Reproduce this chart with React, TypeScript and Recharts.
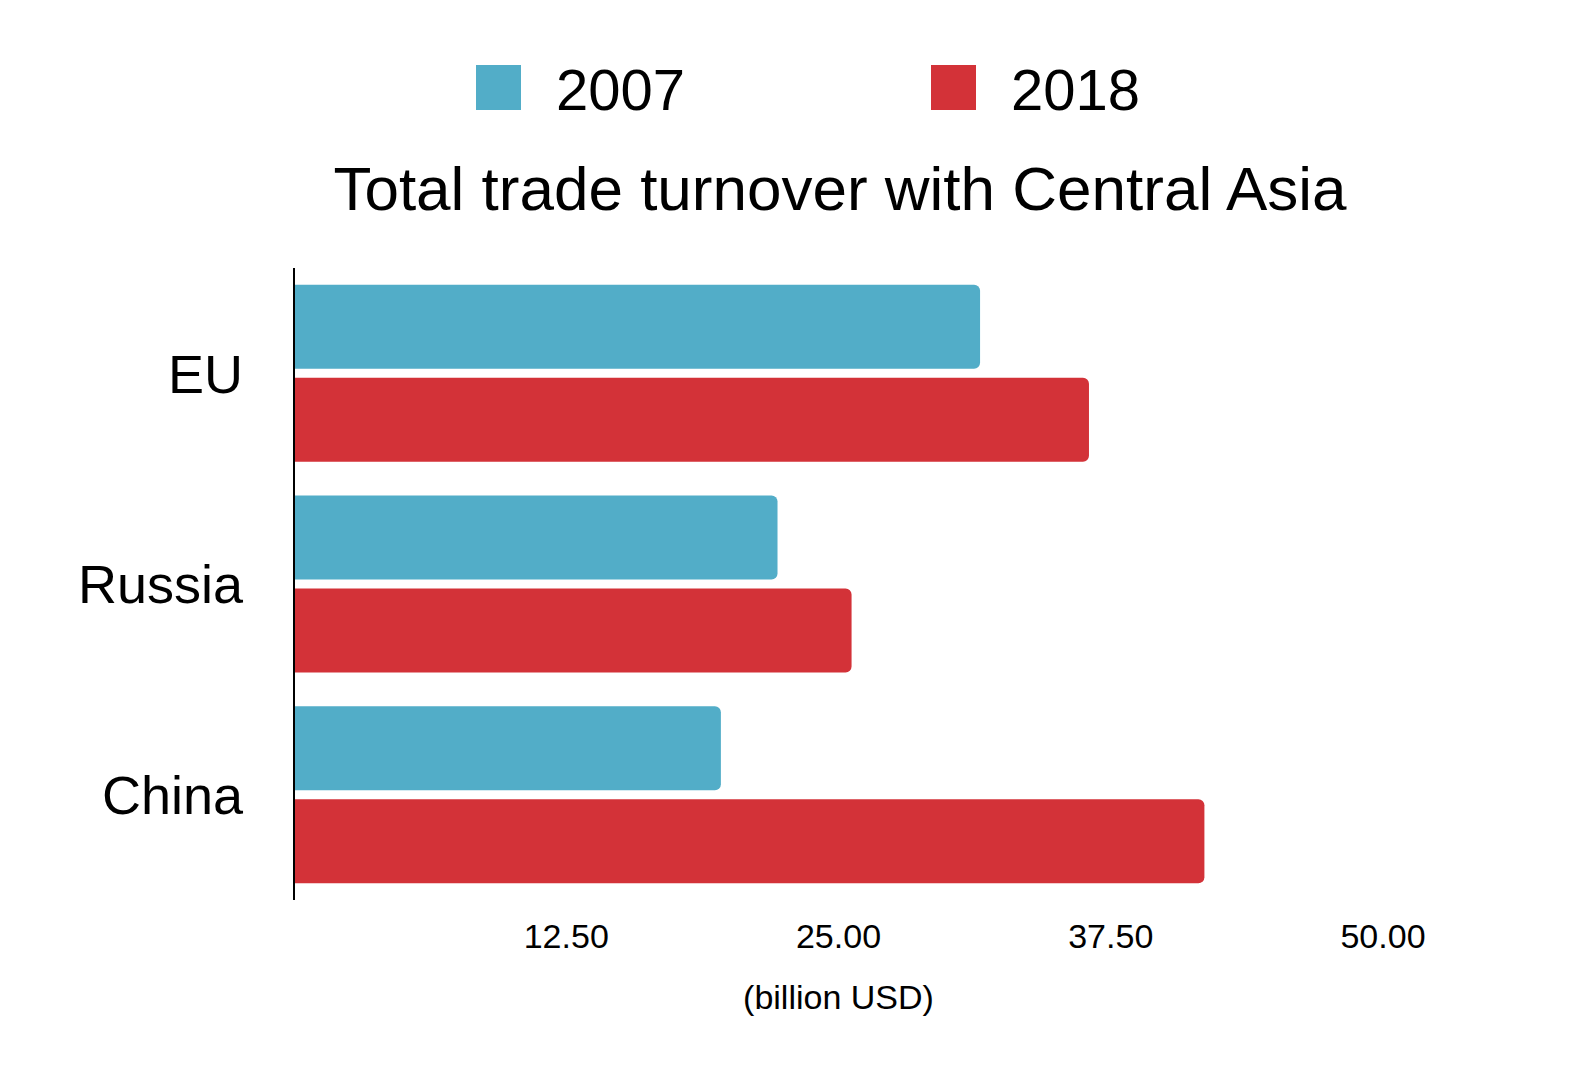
import React from 'react';
import { BarChart, Bar, XAxis, YAxis } from 'recharts';

const categories = ['EU', 'Russia', 'China'];
const values2007 = [31.5, 22.2, 19.6];
const values2018 = [36.5, 25.6, 41.8];
const xTicks = [12.5, 25, 37.5, 50];
const seriesNames = ['2007', '2018'];
const seriesColors = ['#52ADC8', '#D33238'];
const title = 'Total trade turnover with Central Asia';
const xLabel = '(billion USD)';

const data = categories.map((c, i) => ({ name: c, y2007: values2007[i], y2018: values2018[i] }));

const FONT = '"Liberation Sans", Arial, Helvetica, sans-serif';

export default function App() {
  return (
    <div style={{ position: 'absolute', left: 0, top: 0, width: 1590, height: 1068, background: '#fff', fontFamily: FONT }}>
      <BarChart
        width={1590}
        height={1068}
        data={data}
        layout="vertical"
        margin={{ top: 268, right: 207, bottom: 0, left: 0 }}
        barCategoryGap="8%"
        barGap={9}
      >
        <XAxis
          type="number"
          domain={[0, 50]}
          ticks={xTicks}
          tickFormatter={(v: number) => v.toFixed(2)}
          axisLine={false}
          tickLine={false}
          tickSize={0}
          tickMargin={24}
          height={168}
          tick={{ fontSize: 34, fill: '#000', fontFamily: FONT }}
          label={{ value: xLabel, position: 'insideBottom', offset: 59, fontSize: 34, fill: '#000', fontFamily: FONT }}
        />
        <YAxis
          type="category"
          dataKey="name"
          width={294}
          axisLine={{ stroke: '#000', strokeWidth: 2 }}
          tickLine={false}
          tickSize={0}
          tickMargin={51}
          tick={{ fontSize: 54, fill: '#000', fontFamily: FONT }}
        />
        <Bar dataKey="y2007" name={seriesNames[0]} fill={seriesColors[0]} radius={[0, 6, 6, 0]} isAnimationActive={false} />
        <Bar dataKey="y2018" name={seriesNames[1]} fill={seriesColors[1]} radius={[0, 6, 6, 0]} isAnimationActive={false} />
      </BarChart>
      <svg width={1590} height={240} style={{ position: 'absolute', left: 0, top: 0, pointerEvents: 'none' }}>
        {seriesNames.map((s, i) => (
          <g key={s}>
            <rect x={476 + i * 455} y={65} width={45} height={45} fill={seriesColors[i]} />
            <text x={556 + i * 455} y={110} fontSize={58} fill="#000" fontFamily={FONT}>{s}</text>
          </g>
        ))}
        <text x={840} y={210} fontSize={62} textAnchor="middle" fill="#000" fontFamily={FONT}>{title}</text>
      </svg>
    </div>
  );
}
